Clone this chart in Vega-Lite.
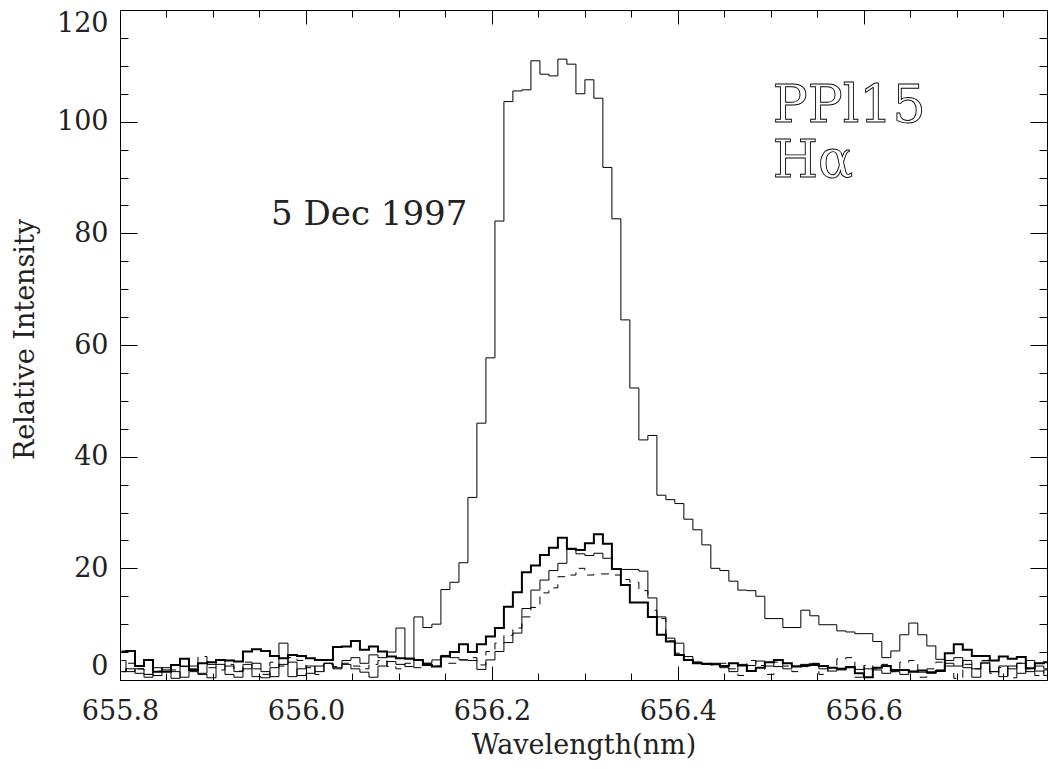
{
"$schema": "https://vega.github.io/schema/vega-lite/v6.json",
"width": 927, "height": 670,
"autosize": {"type": "none"},
"padding": {"left": 120, "top": 10, "right": 1, "bottom": 89},
"background": "white",
"config": {
  "view": {"stroke": "black", "strokeWidth": 1},
  "axis": {"grid": false, "domain": false, "tickColor": "black", "tickWidth": 1,
    "labelFont": "DejaVu Serif", "titleFont": "DejaVu Serif", "labelFontSize": 27, "titleFontSize": 27,
    "labelColor": "#222", "titleColor": "#222", "titleFontWeight": "normal"}
},
"datasets": {
"B": [
{"x":655.8016,"y":3.5},{"x":655.8113,"y":1.5},{"x":655.8210,"y":2.0},{"x":655.8306,"y":1.0},{"x":655.8403,"y":0.8},{"x":655.8500,"y":2.2},{"x":655.8597,"y":1.5},{"x":655.8694,"y":0.5},{"x":655.8790,"y":2.5},{"x":655.8887,"y":1.2},
{"x":655.8984,"y":2.8},{"x":655.9081,"y":3.5},{"x":655.9177,"y":1.0},{"x":655.9274,"y":0.5},{"x":655.9371,"y":2.0},{"x":655.9468,"y":3.0},{"x":655.9564,"y":1.5},{"x":655.9661,"y":0.6},{"x":655.9758,"y":6.6},{"x":655.9855,"y":0.6},
{"x":655.9952,"y":2.0},{"x":656.0048,"y":2.5},{"x":656.0145,"y":1.5},{"x":656.0242,"y":3.0},{"x":656.0339,"y":2.0},{"x":656.0435,"y":3.5},{"x":656.0532,"y":4.0},{"x":656.0629,"y":3.0},{"x":656.0726,"y":4.5},{"x":656.0823,"y":4.0},
{"x":656.0919,"y":5.0},{"x":656.1016,"y":9.3},{"x":656.1113,"y":3.9},{"x":656.1210,"y":11.3},{"x":656.1306,"y":9.4},{"x":656.1403,"y":10.0},{"x":656.1500,"y":16.2},{"x":656.1597,"y":17.5},{"x":656.1694,"y":21.0},{"x":656.1790,"y":32.7},
{"x":656.1887,"y":46.0},{"x":656.1984,"y":57.7},{"x":656.2081,"y":82.2},{"x":656.2177,"y":103.6},{"x":656.2274,"y":105.5},{"x":656.2371,"y":105.7},{"x":656.2468,"y":110.9},{"x":656.2565,"y":108.5},{"x":656.2661,"y":108.2},{"x":656.2758,"y":111.2},
{"x":656.2855,"y":110.3},{"x":656.2952,"y":105.0},{"x":656.3048,"y":107.5},{"x":656.3145,"y":104.2},{"x":656.3242,"y":91.8},{"x":656.3339,"y":82.6},{"x":656.3435,"y":64.5},{"x":656.3532,"y":52.3},{"x":656.3629,"y":43.0},{"x":656.3726,"y":43.8},
{"x":656.3823,"y":33.1},{"x":656.3919,"y":32.3},{"x":656.4016,"y":31.6},{"x":656.4113,"y":28.8},{"x":656.4210,"y":26.9},{"x":656.4306,"y":24.2},{"x":656.4403,"y":20.0},{"x":656.4500,"y":19.6},{"x":656.4597,"y":17.7},{"x":656.4694,"y":16.1},
{"x":656.4790,"y":16.0},{"x":656.4887,"y":15.0},{"x":656.4984,"y":11.0},{"x":656.5081,"y":11.0},{"x":656.5177,"y":9.4},{"x":656.5274,"y":9.4},{"x":656.5371,"y":12.5},{"x":656.5468,"y":11.5},{"x":656.5565,"y":9.9},{"x":656.5661,"y":9.9},
{"x":656.5758,"y":8.8},{"x":656.5855,"y":8.6},{"x":656.5952,"y":8.3},{"x":656.6048,"y":8.3},{"x":656.6145,"y":6.9},{"x":656.6242,"y":4.0},{"x":656.6339,"y":5.2},{"x":656.6435,"y":8.1},{"x":656.6532,"y":10.2},{"x":656.6629,"y":8.1},
{"x":656.6726,"y":6.1},{"x":656.6823,"y":3.7},{"x":656.6919,"y":3.0},{"x":656.7016,"y":2.5},{"x":656.7113,"y":3.5},{"x":656.7210,"y":2.0},{"x":656.7306,"y":3.0},{"x":656.7403,"y":1.5},{"x":656.7500,"y":2.5},{"x":656.7597,"y":2.0},
{"x":656.7694,"y":3.0},{"x":656.7790,"y":1.5},{"x":656.7887,"y":2.5},{"x":656.7984,"y":2.0}
],
"K": [
{"x":655.8016,"y":5.1},{"x":655.8113,"y":5.2},{"x":655.8210,"y":2.5},{"x":655.8306,"y":3.6},{"x":655.8403,"y":1.5},{"x":655.8500,"y":1.5},{"x":655.8597,"y":2.7},{"x":655.8694,"y":3.8},{"x":655.8790,"y":1.8},{"x":655.8887,"y":3.0},
{"x":655.8984,"y":3.2},{"x":655.9081,"y":3.6},{"x":655.9177,"y":3.5},{"x":655.9274,"y":3.3},{"x":655.9371,"y":5.1},{"x":655.9468,"y":5.5},{"x":655.9564,"y":5.2},{"x":655.9661,"y":4.3},{"x":655.9758,"y":3.9},{"x":655.9855,"y":4.5},
{"x":655.9952,"y":4.3},{"x":656.0048,"y":3.9},{"x":656.0145,"y":3.6},{"x":656.0242,"y":3.6},{"x":656.0339,"y":5.9},{"x":656.0435,"y":6.0},{"x":656.0532,"y":7.0},{"x":656.0629,"y":5.4},{"x":656.0726,"y":6.0},{"x":656.0823,"y":5.1},
{"x":656.0919,"y":4.2},{"x":656.1016,"y":3.9},{"x":656.1113,"y":3.8},{"x":656.1210,"y":3.6},{"x":656.1306,"y":2.7},{"x":656.1403,"y":2.4},{"x":656.1500,"y":4.2},{"x":656.1597,"y":5.0},{"x":656.1694,"y":6.4},{"x":656.1790,"y":5.0},
{"x":656.1887,"y":6.4},{"x":656.1984,"y":7.8},{"x":656.2081,"y":9.3},{"x":656.2177,"y":13.1},{"x":656.2274,"y":15.7},{"x":656.2371,"y":19.3},{"x":656.2468,"y":20.5},{"x":656.2565,"y":22.4},{"x":656.2661,"y":23.7},{"x":656.2758,"y":25.5},
{"x":656.2855,"y":23.5},{"x":656.2952,"y":23.3},{"x":656.3048,"y":24.5},{"x":656.3145,"y":26.1},{"x":656.3242,"y":24.4},{"x":656.3339,"y":19.9},{"x":656.3435,"y":17.0},{"x":656.3532,"y":13.9},{"x":656.3629,"y":13.9},{"x":656.3726,"y":11.3},
{"x":656.3823,"y":8.1},{"x":656.3919,"y":6.9},{"x":656.4016,"y":4.5},{"x":656.4113,"y":3.6},{"x":656.4210,"y":3.0},{"x":656.4306,"y":2.9},{"x":656.4403,"y":2.8},{"x":656.4500,"y":2.5},{"x":656.4597,"y":3.0},{"x":656.4694,"y":2.6},
{"x":656.4790,"y":1.6},{"x":656.4887,"y":2.2},{"x":656.4984,"y":3.2},{"x":656.5081,"y":3.6},{"x":656.5177,"y":3.0},{"x":656.5274,"y":2.4},{"x":656.5371,"y":2.6},{"x":656.5468,"y":2.8},{"x":656.5565,"y":2.5},{"x":656.5661,"y":2.2},
{"x":656.5758,"y":2.0},{"x":656.5855,"y":2.3},{"x":656.5952,"y":1.2},{"x":656.6048,"y":0.5},{"x":656.6145,"y":2.2},{"x":656.6242,"y":2.5},{"x":656.6339,"y":1.8},{"x":656.6435,"y":1.8},{"x":656.6532,"y":1.5},{"x":656.6629,"y":1.7},
{"x":656.6726,"y":1.4},{"x":656.6823,"y":1.6},{"x":656.6919,"y":4.8},{"x":656.7016,"y":6.4},{"x":656.7113,"y":5.4},{"x":656.7210,"y":4.3},{"x":656.7306,"y":4.3},{"x":656.7403,"y":3.5},{"x":656.7500,"y":4.2},{"x":656.7597,"y":3.8},
{"x":656.7694,"y":4.1},{"x":656.7790,"y":2.1},{"x":656.7887,"y":3.0},{"x":656.7984,"y":3.2}
],
"T": [
{"x":655.8016,"y":1.5},{"x":655.8113,"y":2.0},{"x":655.8210,"y":1.2},{"x":655.8306,"y":0.5},{"x":655.8403,"y":2.2},{"x":655.8500,"y":1.8},{"x":655.8597,"y":0.3},{"x":655.8694,"y":2.5},{"x":655.8790,"y":2.0},{"x":655.8887,"y":1.0},
{"x":655.8984,"y":0.4},{"x":655.9081,"y":2.8},{"x":655.9177,"y":2.5},{"x":655.9274,"y":1.5},{"x":655.9371,"y":2.8},{"x":655.9468,"y":0.6},{"x":655.9564,"y":0.4},{"x":655.9661,"y":2.2},{"x":655.9758,"y":2.8},{"x":655.9855,"y":3.2},
{"x":655.9952,"y":0.8},{"x":656.0048,"y":1.2},{"x":656.0145,"y":2.5},{"x":656.0242,"y":3.0},{"x":656.0339,"y":2.2},{"x":656.0435,"y":2.8},{"x":656.0532,"y":2.0},{"x":656.0629,"y":1.4},{"x":656.0726,"y":0.5},{"x":656.0823,"y":2.5},
{"x":656.0919,"y":3.3},{"x":656.1016,"y":2.8},{"x":656.1113,"y":2.4},{"x":656.1210,"y":3.5},{"x":656.1306,"y":3.0},{"x":656.1403,"y":3.6},{"x":656.1500,"y":4.4},{"x":656.1597,"y":4.0},{"x":656.1694,"y":3.6},{"x":656.1790,"y":3.5},
{"x":656.1887,"y":1.9},{"x":656.1984,"y":3.6},{"x":656.2081,"y":5.1},{"x":656.2177,"y":6.7},{"x":656.2274,"y":8.4},{"x":656.2371,"y":12.8},{"x":656.2468,"y":16.1},{"x":656.2565,"y":17.9},{"x":656.2661,"y":19.6},{"x":656.2758,"y":20.9},
{"x":656.2855,"y":23.4},{"x":656.2952,"y":22.6},{"x":656.3048,"y":22.3},{"x":656.3145,"y":22.7},{"x":656.3242,"y":21.8},{"x":656.3339,"y":19.8},{"x":656.3435,"y":19.8},{"x":656.3532,"y":19.8},{"x":656.3629,"y":19.5},{"x":656.3726,"y":14.7},
{"x":656.3823,"y":11.3},{"x":656.3919,"y":7.5},{"x":656.4016,"y":6.6},{"x":656.4113,"y":4.2},{"x":656.4210,"y":3.2},{"x":656.4306,"y":2.8},{"x":656.4403,"y":3.0},{"x":656.4500,"y":2.2},{"x":656.4597,"y":1.5},{"x":656.4694,"y":2.8},
{"x":656.4790,"y":2.6},{"x":656.4887,"y":3.4},{"x":656.4984,"y":2.5},{"x":656.5081,"y":2.4},{"x":656.5177,"y":2.0},{"x":656.5274,"y":2.5},{"x":656.5371,"y":2.8},{"x":656.5468,"y":2.6},{"x":656.5565,"y":2.0},{"x":656.5661,"y":1.6},
{"x":656.5758,"y":1.8},{"x":656.5855,"y":2.4},{"x":656.5952,"y":1.9},{"x":656.6048,"y":2.0},{"x":656.6145,"y":1.8},{"x":656.6242,"y":1.2},{"x":656.6339,"y":1.5},{"x":656.6435,"y":1.0},{"x":656.6532,"y":1.6},{"x":656.6629,"y":1.4},
{"x":656.6726,"y":1.2},{"x":656.6823,"y":1.8},{"x":656.6919,"y":3.5},{"x":656.7016,"y":4.0},{"x":656.7113,"y":2.2},{"x":656.7210,"y":0.5},{"x":656.7306,"y":3.2},{"x":656.7403,"y":1.5},{"x":656.7500,"y":0.6},{"x":656.7597,"y":2.5},
{"x":656.7694,"y":1.2},{"x":656.7790,"y":3.5},{"x":656.7887,"y":1.6},{"x":656.7984,"y":0.8}
],
"D": [
{"x":655.8016,"y":1.5},{"x":655.8113,"y":3.0},{"x":655.8210,"y":2.0},{"x":655.8306,"y":1.0},{"x":655.8403,"y":1.6},{"x":655.8500,"y":2.2},{"x":655.8597,"y":1.8},{"x":655.8694,"y":2.4},{"x":655.8790,"y":1.5},{"x":655.8887,"y":4.2},
{"x":655.8984,"y":2.2},{"x":655.9081,"y":1.8},{"x":655.9177,"y":2.8},{"x":655.9274,"y":1.6},{"x":655.9371,"y":3.2},{"x":655.9468,"y":2.0},{"x":655.9564,"y":1.0},{"x":655.9661,"y":3.2},{"x":655.9758,"y":2.5},{"x":655.9855,"y":4.0},
{"x":655.9952,"y":3.5},{"x":656.0048,"y":2.2},{"x":656.0145,"y":1.0},{"x":656.0242,"y":2.8},{"x":656.0339,"y":2.4},{"x":656.0435,"y":3.0},{"x":656.0532,"y":2.5},{"x":656.0629,"y":2.0},{"x":656.0726,"y":2.8},{"x":656.0823,"y":3.5},
{"x":656.0919,"y":2.4},{"x":656.1016,"y":2.0},{"x":656.1113,"y":3.0},{"x":656.1210,"y":2.2},{"x":656.1306,"y":3.0},{"x":656.1403,"y":2.5},{"x":656.1500,"y":3.0},{"x":656.1597,"y":3.0},{"x":656.1694,"y":3.6},{"x":656.1790,"y":4.0},
{"x":656.1887,"y":2.7},{"x":656.1984,"y":5.1},{"x":656.2081,"y":6.6},{"x":656.2177,"y":8.0},{"x":656.2274,"y":9.3},{"x":656.2371,"y":11.3},{"x":656.2468,"y":13.0},{"x":656.2565,"y":15.6},{"x":656.2661,"y":16.5},{"x":656.2758,"y":18.5},
{"x":656.2855,"y":18.8},{"x":656.2952,"y":20.0},{"x":656.3048,"y":18.8},{"x":656.3145,"y":19.0},{"x":656.3242,"y":19.0},{"x":656.3339,"y":18.8},{"x":656.3435,"y":18.0},{"x":656.3532,"y":17.5},{"x":656.3629,"y":16.0},{"x":656.3726,"y":12.5},
{"x":656.3823,"y":11.0},{"x":656.3919,"y":7.0},{"x":656.4016,"y":4.8},{"x":656.4113,"y":3.6},{"x":656.4210,"y":3.2},{"x":656.4306,"y":2.8},{"x":656.4403,"y":2.7},{"x":656.4500,"y":3.0},{"x":656.4597,"y":2.0},{"x":656.4694,"y":0.8},
{"x":656.4790,"y":3.5},{"x":656.4887,"y":2.6},{"x":656.4984,"y":1.0},{"x":656.5081,"y":3.2},{"x":656.5177,"y":2.5},{"x":656.5274,"y":1.5},{"x":656.5371,"y":2.4},{"x":656.5468,"y":3.0},{"x":656.5565,"y":1.0},{"x":656.5661,"y":2.2},
{"x":656.5758,"y":3.8},{"x":656.5855,"y":4.0},{"x":656.5952,"y":0.5},{"x":656.6048,"y":2.6},{"x":656.6145,"y":2.0},{"x":656.6242,"y":2.8},{"x":656.6339,"y":1.5},{"x":656.6435,"y":3.2},{"x":656.6532,"y":3.5},{"x":656.6629,"y":0.5},
{"x":656.6726,"y":2.0},{"x":656.6823,"y":3.2},{"x":656.6919,"y":2.5},{"x":656.7016,"y":0.3},{"x":656.7113,"y":2.8},{"x":656.7210,"y":2.0},{"x":656.7306,"y":3.5},{"x":656.7403,"y":1.2},{"x":656.7500,"y":2.2},{"x":656.7597,"y":0.4},
{"x":656.7694,"y":3.0},{"x":656.7790,"y":2.0},{"x":656.7887,"y":0.8},{"x":656.7984,"y":1.8}
]
},
"resolve": {"axis": {"x": "independent", "y": "independent"}},
"layer": [
{
 "data": {"name": "B"},
 "mark": {"type": "line", "interpolate": "step", "color": "black", "strokeWidth": 1, "clip": true},
 "encoding": {
  "x": {"field": "x", "type": "quantitative", "scale": {"domain": [655.8, 656.797], "nice": false, "zero": false},
        "axis": {"orient": "bottom", "values": [655.8, 656.0, 656.2, 656.4, 656.6], "format": ".1f", "tickSize": -14, "labelPadding": 32, "labelFlush": false, "labelOverlap": false, "labelBound": false, "title": "Wavelength(nm)", "titleBaseline": "alphabetic", "titleY": 73}},
  "y": {"field": "y", "type": "quantitative", "scale": {"domain": [0, 120], "nice": false, "zero": false},
        "axis": {"orient": "left", "values": [0, 20, 40, 60, 80, 100, 120], "tickSize": -17, "labelPadding": 29, "labelFlush": true, "title": "Relative Intensity", "titleAngle": -90, "titleX": -95, "titleY": 329, "titleAlign": "center", "titleBaseline": "middle"}}
 }
},
{
 "data": {"name": "K"},
 "mark": {"type": "line", "interpolate": "step", "color": "black", "strokeWidth": 2, "clip": true},
 "encoding": {
  "x": {"field": "x", "type": "quantitative", "scale": {"domain": [655.8, 656.797], "nice": false, "zero": false},
        "axis": {"orient": "bottom", "values": [655.85, 655.9, 655.95, 656.05, 656.1, 656.15, 656.25, 656.3, 656.35, 656.45, 656.5, 656.55, 656.65, 656.7, 656.75], "tickSize": -7, "labels": false, "title": null}},
  "y": {"field": "y", "type": "quantitative", "scale": {"domain": [0, 120], "nice": false, "zero": false},
        "axis": {"orient": "left", "values": [5, 10, 15, 25, 30, 35, 45, 50, 55, 65, 70, 75, 85, 90, 95, 105, 110, 115], "tickSize": -8, "labels": false, "title": null}}
 }
},
{
 "data": {"name": "T"},
 "mark": {"type": "line", "interpolate": "step", "color": "black", "strokeWidth": 1, "clip": true},
 "encoding": {
  "x": {"field": "x", "type": "quantitative", "scale": {"domain": [655.8, 656.797], "nice": false, "zero": false},
        "axis": {"orient": "top", "values": [655.8, 656.0, 656.2, 656.4, 656.6], "tickSize": -14, "labels": false, "title": null}},
  "y": {"field": "y", "type": "quantitative", "scale": {"domain": [0, 120], "nice": false, "zero": false},
        "axis": {"orient": "right", "values": [0, 20, 40, 60, 80, 100, 120], "tickSize": -17, "labels": false, "title": null}}
 }
},
{
 "data": {"name": "D"},
 "mark": {"type": "line", "interpolate": "step", "color": "black", "strokeWidth": 1, "strokeDash": [8, 7], "clip": true},
 "encoding": {
  "x": {"field": "x", "type": "quantitative", "scale": {"domain": [655.8, 656.797], "nice": false, "zero": false},
        "axis": {"orient": "top", "values": [655.85, 655.9, 655.95, 656.05, 656.1, 656.15, 656.25, 656.3, 656.35, 656.45, 656.5, 656.55, 656.65, 656.7, 656.75], "tickSize": -7, "labels": false, "title": null}},
  "y": {"field": "y", "type": "quantitative", "scale": {"domain": [0, 120], "nice": false, "zero": false},
        "axis": {"orient": "right", "values": [5, 10, 15, 25, 30, 35, 45, 50, 55, 65, 70, 75, 85, 90, 95, 105, 110, 115], "tickSize": -8, "labels": false, "title": null}}
 }
},
{
 "data": {"values": [{}]},
 "mark": {"type": "text", "text": "5 Dec 1997", "font": "DejaVu Serif", "fontSize": 34, "fill": "#222", "align": "center", "baseline": "alphabetic"},
 "encoding": {
  "x": {"datum": 656.068, "type": "quantitative", "axis": null, "scale": {"domain": [655.8, 656.797], "nice": false, "zero": false}},
  "y": {"datum": 81.5, "type": "quantitative", "axis": null, "scale": {"domain": [0, 120], "nice": false, "zero": false}}
 }
},
{
 "data": {"values": [{}]},
 "mark": {"type": "text", "text": "PPl15", "font": "DejaVu Serif", "fontSize": 52, "fill": "white", "stroke": "black", "strokeWidth": 0.9, "align": "left", "baseline": "alphabetic"},
 "encoding": {
  "x": {"datum": 656.502, "type": "quantitative", "axis": null, "scale": {"domain": [655.8, 656.797], "nice": false, "zero": false}},
  "y": {"datum": 100, "type": "quantitative", "axis": null, "scale": {"domain": [0, 120], "nice": false, "zero": false}}
 }
},
{
 "data": {"values": [{}]},
 "mark": {"type": "text", "text": "Hα", "font": "DejaVu Serif", "fontSize": 52, "fill": "white", "stroke": "black", "strokeWidth": 0.9, "align": "left", "baseline": "alphabetic"},
 "encoding": {
  "x": {"datum": 656.502, "type": "quantitative", "axis": null, "scale": {"domain": [655.8, 656.797], "nice": false, "zero": false}},
  "y": {"datum": 90.1, "type": "quantitative", "axis": null, "scale": {"domain": [0, 120], "nice": false, "zero": false}}
 }
}
]
}
